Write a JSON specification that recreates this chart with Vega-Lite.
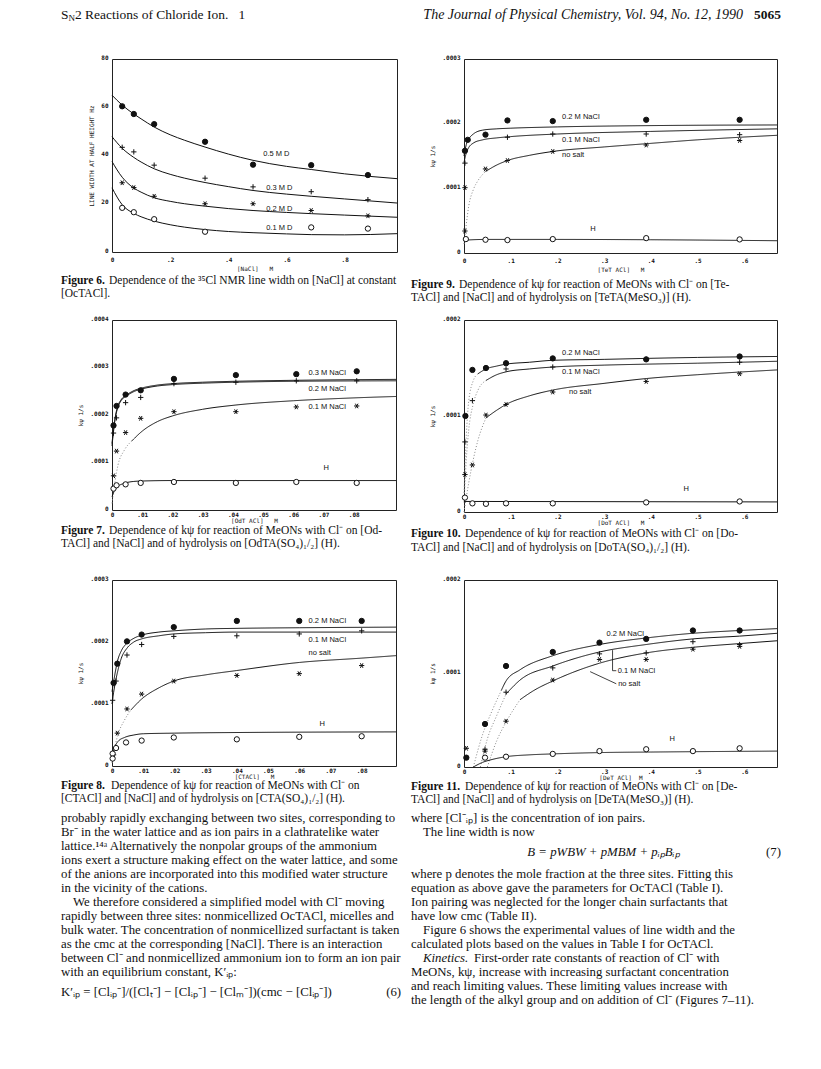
{
  "$schema": "https://vega.github.io/schema/vega-lite/v6.json",
  "padding": {"left": 60, "top": 0, "right": 0, "bottom": 0},
  "background": "white",
  "columns": 2,
  "bounds": "flush",
  "spacing": {"row": 0, "column": 67},
  "resolve": {"scale": {"x": "independent", "y": "independent", "shape": "independent", "fill": "independent", "color": "independent", "strokeDash": "independent"}},
  "config": {
    "view": {"stroke": "#222", "strokeWidth": 1},
    "axis": {"ticks": false, "domain": false, "grid": false, "labelFont": "DejaVu Sans Mono", "labelFontSize": 6, "labelColor": "#111", "labelFontWeight": "bold", "titleFont": "DejaVu Sans Mono", "titleFontSize": 6, "titleFontWeight": "normal", "titleColor": "#111", "labelFlush": false, "labelOverlap": false},
    "axisX": {"labelPadding": 1, "titlePadding": 0},
    "axisY": {"labelPadding": 4, "titlePadding": 6, "labelBaseline": "alphabetic"},
    "text": {"color": "#111"}
  },
  "datasets": {
    "c6": [
      {"s":"0.5 M D","x":0,"y":65},{"s":"0.5 M D","x":0.035,"y":60.9},{"s":"0.5 M D","x":0.075,"y":57.2},{"s":"0.5 M D","x":0.1,"y":55.2},{"s":"0.5 M D","x":0.145,"y":51.8},{"s":"0.5 M D","x":0.2,"y":48.6},{"s":"0.5 M D","x":0.25,"y":46.3},{"s":"0.5 M D","x":0.32,"y":43.5},{"s":"0.5 M D","x":0.4,"y":40.6},{"s":"0.5 M D","x":0.485,"y":38.0},{"s":"0.5 M D","x":0.6,"y":35.5},{"s":"0.5 M D","x":0.685,"y":34.2},{"s":"0.5 M D","x":0.8,"y":32.4},{"s":"0.5 M D","x":0.98,"y":30.4},
      {"s":"0.3 M D","x":0,"y":47.8},{"s":"0.3 M D","x":0.035,"y":43.0},{"s":"0.3 M D","x":0.075,"y":39.2},{"s":"0.3 M D","x":0.1,"y":37.3},{"s":"0.3 M D","x":0.145,"y":34.5},{"s":"0.3 M D","x":0.2,"y":32.2},{"s":"0.3 M D","x":0.25,"y":30.6},{"s":"0.3 M D","x":0.32,"y":28.8},{"s":"0.3 M D","x":0.4,"y":27.1},{"s":"0.3 M D","x":0.485,"y":25.5},{"s":"0.3 M D","x":0.6,"y":24.0},{"s":"0.3 M D","x":0.685,"y":23.1},{"s":"0.3 M D","x":0.8,"y":22.0},{"s":"0.3 M D","x":0.98,"y":20.3},
      {"s":"0.2 M D","x":0,"y":37.5},{"s":"0.2 M D","x":0.035,"y":31.0},{"s":"0.2 M D","x":0.075,"y":26.5},{"s":"0.2 M D","x":0.1,"y":24.8},{"s":"0.2 M D","x":0.145,"y":22.5},{"s":"0.2 M D","x":0.2,"y":21.0},{"s":"0.2 M D","x":0.25,"y":20.0},{"s":"0.2 M D","x":0.32,"y":19.0},{"s":"0.2 M D","x":0.4,"y":18.0},{"s":"0.2 M D","x":0.485,"y":17.2},{"s":"0.2 M D","x":0.6,"y":16.4},{"s":"0.2 M D","x":0.685,"y":15.9},{"s":"0.2 M D","x":0.8,"y":15.3},{"s":"0.2 M D","x":0.98,"y":14.4},
      {"s":"0.1 M D","x":0,"y":26.6},{"s":"0.1 M D","x":0.035,"y":19.6},{"s":"0.1 M D","x":0.075,"y":16.0},{"s":"0.1 M D","x":0.1,"y":14.6},{"s":"0.1 M D","x":0.145,"y":12.8},{"s":"0.1 M D","x":0.2,"y":11.3},{"s":"0.1 M D","x":0.25,"y":10.3},{"s":"0.1 M D","x":0.32,"y":9.3},{"s":"0.1 M D","x":0.4,"y":8.5},{"s":"0.1 M D","x":0.485,"y":8.0},{"s":"0.1 M D","x":0.6,"y":7.5},{"s":"0.1 M D","x":0.685,"y":7.2},{"s":"0.1 M D","x":0.8,"y":7.1},{"s":"0.1 M D","x":0.98,"y":7.6}
    ],
    "p6": [
      {"s":"0.5 M D","x":0.035,"y":60.4},{"s":"0.5 M D","x":0.075,"y":57.2},{"s":"0.5 M D","x":0.145,"y":53.0},{"s":"0.5 M D","x":0.32,"y":45.7},{"s":"0.5 M D","x":0.485,"y":36.2},{"s":"0.5 M D","x":0.685,"y":36.0},{"s":"0.5 M D","x":0.88,"y":31.9},
      {"s":"0.3 M D","x":0.035,"y":43.4},{"s":"0.3 M D","x":0.075,"y":41.5},{"s":"0.3 M D","x":0.145,"y":36.0},{"s":"0.3 M D","x":0.32,"y":30.6},{"s":"0.3 M D","x":0.485,"y":27.0},{"s":"0.3 M D","x":0.685,"y":25.0},{"s":"0.3 M D","x":0.88,"y":21.7},
      {"s":"0.2 M D","x":0.035,"y":28.7},{"s":"0.2 M D","x":0.075,"y":26.7},{"s":"0.2 M D","x":0.145,"y":23.1},{"s":"0.2 M D","x":0.32,"y":20.0},{"s":"0.2 M D","x":0.485,"y":20.0},{"s":"0.2 M D","x":0.685,"y":17.2},{"s":"0.2 M D","x":0.88,"y":15.0},
      {"s":"0.1 M D","x":0.035,"y":18.3},{"s":"0.1 M D","x":0.075,"y":16.5},{"s":"0.1 M D","x":0.145,"y":13.6},{"s":"0.1 M D","x":0.32,"y":8.4},{"s":"0.1 M D","x":0.685,"y":10.2},{"s":"0.1 M D","x":0.88,"y":9.7}
    ],
    "l6": [
      {"t":"0.5 M D","x":0.52,"y":40.5},{"t":"0.3 M D","x":0.53,"y":26.5},{"t":"0.2 M D","x":0.53,"y":18},{"t":"0.1 M D","x":0.53,"y":10}
    ],
    "c9": [
      {"s":"0.2 M NaCl","e":0,"x":0,"y":1.5e-4},{"s":"0.2 M NaCl","e":0,"x":0.005,"y":1.68e-4},{"s":"0.2 M NaCl","e":0,"x":0.01,"y":1.76e-4},{"s":"0.2 M NaCl","e":0,"x":0.02,"y":1.84e-4},{"s":"0.2 M NaCl","e":0,"x":0.04,"y":1.9e-4},{"s":"0.2 M NaCl","e":0,"x":0.07,"y":1.92e-4},{"s":"0.2 M NaCl","e":0,"x":0.1,"y":1.93e-4},{"s":"0.2 M NaCl","e":0,"x":0.2,"y":1.95e-4},{"s":"0.2 M NaCl","e":0,"x":0.4,"y":1.97e-4},{"s":"0.2 M NaCl","e":0,"x":0.67,"y":1.98e-4},
      {"s":"0.1 M NaCl","e":0,"x":0,"y":1.4e-4},{"s":"0.1 M NaCl","e":0,"x":0.005,"y":1.55e-4},{"s":"0.1 M NaCl","e":0,"x":0.01,"y":1.63e-4},{"s":"0.1 M NaCl","e":0,"x":0.02,"y":1.7e-4},{"s":"0.1 M NaCl","e":0,"x":0.04,"y":1.75e-4},{"s":"0.1 M NaCl","e":0,"x":0.07,"y":1.78e-4},{"s":"0.1 M NaCl","e":0,"x":0.1,"y":1.8e-4},{"s":"0.1 M NaCl","e":0,"x":0.2,"y":1.84e-4},{"s":"0.1 M NaCl","e":0,"x":0.4,"y":1.88e-4},{"s":"0.1 M NaCl","e":0,"x":0.67,"y":1.92e-4},
      {"s":"no salt","e":1,"x":0,"y":1.4e-5},{"s":"no salt","e":1,"x":0.005,"y":4.5e-5},{"s":"no salt","e":1,"x":0.01,"y":7.2e-5},{"s":"no salt","e":1,"x":0.02,"y":9.8e-5},{"s":"no salt","e":1,"x":0.03,"y":1.12e-4},{"s":"no salt","e":1,"x":0.046,"y":1.26e-4},
      {"s":"no salt","e":0,"x":0.046,"y":1.26e-4},{"s":"no salt","e":0,"x":0.07,"y":1.36e-4},{"s":"no salt","e":0,"x":0.093,"y":1.43e-4},{"s":"no salt","e":0,"x":0.14,"y":1.51e-4},{"s":"no salt","e":0,"x":0.19,"y":1.57e-4},{"s":"no salt","e":0,"x":0.3,"y":1.64e-4},{"s":"no salt","e":0,"x":0.39,"y":1.69e-4},{"s":"no salt","e":0,"x":0.5,"y":1.75e-4},{"s":"no salt","e":0,"x":0.67,"y":1.82e-4},
      {"s":"H","e":0,"x":0,"y":1.7e-5},{"s":"H","e":0,"x":0.005,"y":2.0e-5},{"s":"H","e":0,"x":0.05,"y":2.1e-5},{"s":"H","e":0,"x":0.2,"y":2.1e-5},{"s":"H","e":0,"x":0.4,"y":2.05e-5},{"s":"H","e":0,"x":0.67,"y":1.9e-5}
    ],
    "p9": [
      {"s":"0.2 M NaCl","x":0.002,"y":1.58e-4},{"s":"0.2 M NaCl","x":0.008,"y":1.75e-4},{"s":"0.2 M NaCl","x":0.046,"y":1.83e-4},{"s":"0.2 M NaCl","x":0.093,"y":2.05e-4},{"s":"0.2 M NaCl","x":0.19,"y":2.04e-4},{"s":"0.2 M NaCl","x":0.39,"y":2.06e-4},{"s":"0.2 M NaCl","x":0.59,"y":2.06e-4},
      {"s":"0.1 M NaCl","x":0.002,"y":1.39e-4},{"s":"0.1 M NaCl","x":0.093,"y":1.79e-4},{"s":"0.1 M NaCl","x":0.19,"y":1.84e-4},{"s":"0.1 M NaCl","x":0.39,"y":1.84e-4},{"s":"0.1 M NaCl","x":0.59,"y":1.83e-4},
      {"s":"no salt","x":0.002,"y":3.4e-5},{"s":"no salt","x":0.002,"y":1.01e-4},{"s":"no salt","x":0.046,"y":1.30e-4},{"s":"no salt","x":0.093,"y":1.43e-4},{"s":"no salt","x":0.19,"y":1.57e-4},{"s":"no salt","x":0.39,"y":1.67e-4},{"s":"no salt","x":0.59,"y":1.74e-4},
      {"s":"H","x":0.004,"y":2.15e-5},{"s":"H","x":0.046,"y":2.05e-5},{"s":"H","x":0.093,"y":2.0e-5},{"s":"H","x":0.19,"y":2.15e-5},{"s":"H","x":0.39,"y":2.3e-5},{"s":"H","x":0.59,"y":2.1e-5}
    ],
    "l9": [
      {"t":"0.2 M NaCl","x":0.21,"y":2.11e-4},{"t":"0.1 M NaCl","x":0.21,"y":1.75e-4},{"t":"no salt","x":0.21,"y":1.52e-4},{"t":"H","x":0.27,"y":3.7e-5}
    ],
    "c7": [
      {"s":"0.3 M NaCl","e":0,"x":0,"y":1.4e-4},{"s":"0.3 M NaCl","e":0,"x":0.0005,"y":1.7e-4},{"s":"0.3 M NaCl","e":0,"x":0.001,"y":1.93e-4},{"s":"0.3 M NaCl","e":0,"x":0.002,"y":2.2e-4},{"s":"0.3 M NaCl","e":0,"x":0.003,"y":2.32e-4},{"s":"0.3 M NaCl","e":0,"x":0.005,"y":2.43e-4},{"s":"0.3 M NaCl","e":0,"x":0.0075,"y":2.52e-4},{"s":"0.3 M NaCl","e":0,"x":0.01,"y":2.57e-4},{"s":"0.3 M NaCl","e":0,"x":0.015,"y":2.63e-4},{"s":"0.3 M NaCl","e":0,"x":0.02,"y":2.66e-4},{"s":"0.3 M NaCl","e":0,"x":0.03,"y":2.69e-4},{"s":"0.3 M NaCl","e":0,"x":0.041,"y":2.71e-4},{"s":"0.3 M NaCl","e":0,"x":0.06,"y":2.73e-4},{"s":"0.3 M NaCl","e":0,"x":0.094,"y":2.75e-4},
      {"s":"0.2 M NaCl","e":0,"x":0,"y":1.35e-4},{"s":"0.2 M NaCl","e":0,"x":0.0005,"y":1.65e-4},{"s":"0.2 M NaCl","e":0,"x":0.001,"y":1.9e-4},{"s":"0.2 M NaCl","e":0,"x":0.002,"y":2.17e-4},{"s":"0.2 M NaCl","e":0,"x":0.003,"y":2.3e-4},{"s":"0.2 M NaCl","e":0,"x":0.005,"y":2.41e-4},{"s":"0.2 M NaCl","e":0,"x":0.0075,"y":2.5e-4},{"s":"0.2 M NaCl","e":0,"x":0.01,"y":2.55e-4},{"s":"0.2 M NaCl","e":0,"x":0.015,"y":2.61e-4},{"s":"0.2 M NaCl","e":0,"x":0.02,"y":2.64e-4},{"s":"0.2 M NaCl","e":0,"x":0.03,"y":2.67e-4},{"s":"0.2 M NaCl","e":0,"x":0.041,"y":2.69e-4},{"s":"0.2 M NaCl","e":0,"x":0.06,"y":2.71e-4},{"s":"0.2 M NaCl","e":0,"x":0.094,"y":2.72e-4},
      {"s":"0.1 M NaCl","e":1,"x":0,"y":1.4e-5},{"s":"0.1 M NaCl","e":1,"x":0.001,"y":6.0e-5},{"s":"0.1 M NaCl","e":1,"x":0.002,"y":9.5e-5},{"s":"0.1 M NaCl","e":1,"x":0.004,"y":1.25e-4},{"s":"0.1 M NaCl","e":1,"x":0.0065,"y":1.45e-4},
      {"s":"0.1 M NaCl","e":0,"x":0.0065,"y":1.45e-4},{"s":"0.1 M NaCl","e":0,"x":0.01,"y":1.66e-4},{"s":"0.1 M NaCl","e":0,"x":0.015,"y":1.86e-4},{"s":"0.1 M NaCl","e":0,"x":0.02,"y":1.98e-4},{"s":"0.1 M NaCl","e":0,"x":0.03,"y":2.12e-4},{"s":"0.1 M NaCl","e":0,"x":0.041,"y":2.21e-4},{"s":"0.1 M NaCl","e":0,"x":0.06,"y":2.3e-4},{"s":"0.1 M NaCl","e":0,"x":0.08,"y":2.36e-4},{"s":"0.1 M NaCl","e":0,"x":0.094,"y":2.39e-4},
      {"s":"H","e":0,"x":0,"y":2.8e-5},{"s":"H","e":0,"x":0.001,"y":4.3e-5},{"s":"H","e":0,"x":0.002,"y":5.0e-5},{"s":"H","e":0,"x":0.004,"y":5.6e-5},{"s":"H","e":0,"x":0.007,"y":6.0e-5},{"s":"H","e":0,"x":0.01,"y":6.1e-5},{"s":"H","e":0,"x":0.02,"y":6.2e-5},{"s":"H","e":0,"x":0.094,"y":6.2e-5}
    ],
    "p7": [
      {"s":"0.3 M NaCl","x":0.0005,"y":1.78e-4},{"s":"0.3 M NaCl","x":0.0015,"y":2.19e-4},{"s":"0.3 M NaCl","x":0.0045,"y":2.43e-4},{"s":"0.3 M NaCl","x":0.0095,"y":2.52e-4},{"s":"0.3 M NaCl","x":0.0205,"y":2.76e-4},{"s":"0.3 M NaCl","x":0.041,"y":2.84e-4},{"s":"0.3 M NaCl","x":0.061,"y":2.86e-4},{"s":"0.3 M NaCl","x":0.081,"y":2.92e-4},
      {"s":"0.2 M NaCl","x":0.0005,"y":1.62e-4},{"s":"0.2 M NaCl","x":0.0015,"y":1.94e-4},{"s":"0.2 M NaCl","x":0.0045,"y":2.26e-4},{"s":"0.2 M NaCl","x":0.0095,"y":2.37e-4},{"s":"0.2 M NaCl","x":0.0205,"y":2.66e-4},{"s":"0.2 M NaCl","x":0.041,"y":2.69e-4},{"s":"0.2 M NaCl","x":0.061,"y":2.72e-4},{"s":"0.2 M NaCl","x":0.081,"y":2.72e-4},
      {"s":"0.1 M NaCl","x":0.0005,"y":7.2e-5},{"s":"0.1 M NaCl","x":0.0015,"y":1.24e-4},{"s":"0.1 M NaCl","x":0.0045,"y":1.63e-4},{"s":"0.1 M NaCl","x":0.0095,"y":1.93e-4},{"s":"0.1 M NaCl","x":0.0205,"y":2.07e-4},{"s":"0.1 M NaCl","x":0.041,"y":2.07e-4},{"s":"0.1 M NaCl","x":0.061,"y":2.17e-4},{"s":"0.1 M NaCl","x":0.081,"y":2.19e-4},
      {"s":"H","x":0.0005,"y":4.5e-5},{"s":"H","x":0.0015,"y":5.2e-5},{"s":"H","x":0.0045,"y":5.4e-5},{"s":"H","x":0.0095,"y":5.7e-5},{"s":"H","x":0.0205,"y":5.9e-5},{"s":"H","x":0.041,"y":5.7e-5},{"s":"H","x":0.061,"y":5.9e-5},{"s":"H","x":0.081,"y":5.7e-5}
    ],
    "l7": [
      {"t":"0.3 M NaCl","x":0.065,"y":2.88e-4},{"t":"0.2 M NaCl","x":0.065,"y":2.55e-4},{"t":"0.1 M NaCl","x":0.065,"y":2.17e-4},{"t":"H","x":0.07,"y":8.8e-5}
    ],
    "c10": [
      {"s":"0.2 M NaCl","e":1,"x":0,"y":2e-5},{"s":"0.2 M NaCl","e":1,"x":0.005,"y":8e-5},{"s":"0.2 M NaCl","e":1,"x":0.01,"y":1.15e-4},{"s":"0.2 M NaCl","e":1,"x":0.02,"y":1.37e-4},{"s":"0.2 M NaCl","e":1,"x":0.03,"y":1.44e-4},
      {"s":"0.2 M NaCl","e":0,"x":0.03,"y":1.44e-4},{"s":"0.2 M NaCl","e":0,"x":0.047,"y":1.49e-4},{"s":"0.2 M NaCl","e":0,"x":0.07,"y":1.52e-4},{"s":"0.2 M NaCl","e":0,"x":0.09,"y":1.54e-4},{"s":"0.2 M NaCl","e":0,"x":0.14,"y":1.56e-4},{"s":"0.2 M NaCl","e":0,"x":0.19,"y":1.58e-4},{"s":"0.2 M NaCl","e":0,"x":0.3,"y":1.59e-4},{"s":"0.2 M NaCl","e":0,"x":0.39,"y":1.6e-4},{"s":"0.2 M NaCl","e":0,"x":0.5,"y":1.61e-4},{"s":"0.2 M NaCl","e":0,"x":0.67,"y":1.62e-4},
      {"s":"0.1 M NaCl","e":1,"x":0,"y":1e-5},{"s":"0.1 M NaCl","e":1,"x":0.005,"y":5.5e-5},{"s":"0.1 M NaCl","e":1,"x":0.01,"y":8.5e-5},{"s":"0.1 M NaCl","e":1,"x":0.02,"y":1.13e-4},{"s":"0.1 M NaCl","e":1,"x":0.03,"y":1.27e-4},{"s":"0.1 M NaCl","e":1,"x":0.047,"y":1.37e-4},
      {"s":"0.1 M NaCl","e":0,"x":0.047,"y":1.37e-4},{"s":"0.1 M NaCl","e":0,"x":0.07,"y":1.43e-4},{"s":"0.1 M NaCl","e":0,"x":0.09,"y":1.46e-4},{"s":"0.1 M NaCl","e":0,"x":0.14,"y":1.49e-4},{"s":"0.1 M NaCl","e":0,"x":0.19,"y":1.51e-4},{"s":"0.1 M NaCl","e":0,"x":0.3,"y":1.53e-4},{"s":"0.1 M NaCl","e":0,"x":0.39,"y":1.54e-4},{"s":"0.1 M NaCl","e":0,"x":0.5,"y":1.55e-4},{"s":"0.1 M NaCl","e":0,"x":0.67,"y":1.57e-4},
      {"s":"no salt","e":1,"x":0,"y":0},{"s":"no salt","e":1,"x":0.01,"y":3e-5},{"s":"no salt","e":1,"x":0.02,"y":5.5e-5},{"s":"no salt","e":1,"x":0.03,"y":7.5e-5},{"s":"no salt","e":1,"x":0.047,"y":9.8e-5},
      {"s":"no salt","e":0,"x":0.047,"y":9.8e-5},{"s":"no salt","e":0,"x":0.07,"y":1.06e-4},{"s":"no salt","e":0,"x":0.09,"y":1.12e-4},{"s":"no salt","e":0,"x":0.14,"y":1.21e-4},{"s":"no salt","e":0,"x":0.19,"y":1.27e-4},{"s":"no salt","e":0,"x":0.3,"y":1.34e-4},{"s":"no salt","e":0,"x":0.39,"y":1.39e-4},{"s":"no salt","e":0,"x":0.5,"y":1.43e-4},{"s":"no salt","e":0,"x":0.67,"y":1.48e-4},
      {"s":"H","e":0,"x":0,"y":1.1e-5},{"s":"H","e":0,"x":0.67,"y":1.05e-5}
    ],
    "p10": [
      {"s":"0.2 M NaCl","x":0.003,"y":1.0e-4},{"s":"0.2 M NaCl","x":0.018,"y":1.48e-4},{"s":"0.2 M NaCl","x":0.047,"y":1.5e-4},{"s":"0.2 M NaCl","x":0.09,"y":1.55e-4},{"s":"0.2 M NaCl","x":0.19,"y":1.6e-4},{"s":"0.2 M NaCl","x":0.39,"y":1.59e-4},{"s":"0.2 M NaCl","x":0.59,"y":1.62e-4},
      {"s":"0.1 M NaCl","x":0.002,"y":7.3e-5},{"s":"0.1 M NaCl","x":0.018,"y":1.16e-4},{"s":"0.1 M NaCl","x":0.09,"y":1.49e-4},{"s":"0.1 M NaCl","x":0.19,"y":1.51e-4},{"s":"0.1 M NaCl","x":0.39,"y":1.59e-4},{"s":"0.1 M NaCl","x":0.59,"y":1.56e-4},
      {"s":"no salt","x":0.002,"y":3.9e-5},{"s":"no salt","x":0.018,"y":4.9e-5},{"s":"no salt","x":0.047,"y":1.01e-4},{"s":"no salt","x":0.09,"y":1.12e-4},{"s":"no salt","x":0.19,"y":1.25e-4},{"s":"no salt","x":0.39,"y":1.36e-4},{"s":"no salt","x":0.59,"y":1.44e-4},
      {"s":"H","x":0.002,"y":1.5e-5},{"s":"H","x":0.018,"y":9e-6},{"s":"H","x":0.047,"y":8.5e-6},{"s":"H","x":0.09,"y":9e-6},{"s":"H","x":0.19,"y":9e-6},{"s":"H","x":0.39,"y":1.0e-5},{"s":"H","x":0.59,"y":1.1e-5}
    ],
    "l10": [
      {"t":"0.2 M NaCl","x":0.21,"y":1.66e-4},{"t":"0.1 M NaCl","x":0.21,"y":1.46e-4},{"t":"no salt","x":0.225,"y":1.25e-4},{"t":"H","x":0.47,"y":2.4e-5}
    ],
    "c8": [
      {"s":"0.2 M NaCl","e":0,"x":0,"y":1.2e-4},{"s":"0.2 M NaCl","e":0,"x":0.0005,"y":1.35e-4},{"s":"0.2 M NaCl","e":0,"x":0.001,"y":1.5e-4},{"s":"0.2 M NaCl","e":0,"x":0.0017,"y":1.68e-4},{"s":"0.2 M NaCl","e":0,"x":0.003,"y":1.86e-4},{"s":"0.2 M NaCl","e":0,"x":0.0048,"y":1.98e-4},{"s":"0.2 M NaCl","e":0,"x":0.007,"y":2.06e-4},{"s":"0.2 M NaCl","e":0,"x":0.0095,"y":2.11e-4},{"s":"0.2 M NaCl","e":0,"x":0.015,"y":2.16e-4},{"s":"0.2 M NaCl","e":0,"x":0.0198,"y":2.18e-4},{"s":"0.2 M NaCl","e":0,"x":0.03,"y":2.21e-4},{"s":"0.2 M NaCl","e":0,"x":0.04,"y":2.22e-4},{"s":"0.2 M NaCl","e":0,"x":0.06,"y":2.23e-4},{"s":"0.2 M NaCl","e":0,"x":0.091,"y":2.24e-4},
      {"s":"0.1 M NaCl","e":0,"x":0,"y":1.0e-4},{"s":"0.1 M NaCl","e":0,"x":0.0005,"y":1.18e-4},{"s":"0.1 M NaCl","e":0,"x":0.001,"y":1.33e-4},{"s":"0.1 M NaCl","e":0,"x":0.0017,"y":1.5e-4},{"s":"0.1 M NaCl","e":0,"x":0.003,"y":1.74e-4},{"s":"0.1 M NaCl","e":0,"x":0.0048,"y":1.9e-4},{"s":"0.1 M NaCl","e":0,"x":0.007,"y":2.0e-4},{"s":"0.1 M NaCl","e":0,"x":0.0095,"y":2.05e-4},{"s":"0.1 M NaCl","e":0,"x":0.015,"y":2.1e-4},{"s":"0.1 M NaCl","e":0,"x":0.0198,"y":2.13e-4},{"s":"0.1 M NaCl","e":0,"x":0.03,"y":2.15e-4},{"s":"0.1 M NaCl","e":0,"x":0.04,"y":2.16e-4},{"s":"0.1 M NaCl","e":0,"x":0.06,"y":2.16e-4},{"s":"0.1 M NaCl","e":0,"x":0.091,"y":2.16e-4},
      {"s":"no salt","e":1,"x":0,"y":5e-6},{"s":"no salt","e":1,"x":0.001,"y":3.3e-5},{"s":"no salt","e":1,"x":0.002,"y":5.2e-5},{"s":"no salt","e":1,"x":0.004,"y":7.4e-5},{"s":"no salt","e":1,"x":0.006,"y":9.0e-5},
      {"s":"no salt","e":0,"x":0.006,"y":9.0e-5},{"s":"no salt","e":0,"x":0.0095,"y":1.08e-4},{"s":"no salt","e":0,"x":0.015,"y":1.26e-4},{"s":"no salt","e":0,"x":0.0198,"y":1.37e-4},{"s":"no salt","e":0,"x":0.03,"y":1.47e-4},{"s":"no salt","e":0,"x":0.04,"y":1.54e-4},{"s":"no salt","e":0,"x":0.06,"y":1.67e-4},{"s":"no salt","e":0,"x":0.08,"y":1.74e-4},{"s":"no salt","e":0,"x":0.091,"y":1.78e-4},
      {"s":"H","e":0,"x":0,"y":1.5e-5},{"s":"H","e":0,"x":0.001,"y":3.2e-5},{"s":"H","e":0,"x":0.002,"y":4.0e-5},{"s":"H","e":0,"x":0.004,"y":4.6e-5},{"s":"H","e":0,"x":0.007,"y":5.0e-5},{"s":"H","e":0,"x":0.01,"y":5.2e-5},{"s":"H","e":0,"x":0.02,"y":5.3e-5},{"s":"H","e":0,"x":0.04,"y":5.4e-5},{"s":"H","e":0,"x":0.091,"y":5.5e-5}
    ],
    "p8": [
      {"s":"0.2 M NaCl","x":0.0005,"y":1.34e-4},{"s":"0.2 M NaCl","x":0.0017,"y":1.65e-4},{"s":"0.2 M NaCl","x":0.0048,"y":2.01e-4},{"s":"0.2 M NaCl","x":0.0095,"y":2.12e-4},{"s":"0.2 M NaCl","x":0.0198,"y":2.24e-4},{"s":"0.2 M NaCl","x":0.04,"y":2.34e-4},{"s":"0.2 M NaCl","x":0.06,"y":2.34e-4},{"s":"0.2 M NaCl","x":0.08,"y":2.34e-4},
      {"s":"0.1 M NaCl","x":0.0002,"y":1.06e-4},{"s":"0.1 M NaCl","x":0.0013,"y":1.37e-4},{"s":"0.1 M NaCl","x":0.0048,"y":1.79e-4},{"s":"0.1 M NaCl","x":0.0095,"y":1.96e-4},{"s":"0.1 M NaCl","x":0.0198,"y":2.09e-4},{"s":"0.1 M NaCl","x":0.04,"y":2.1e-4},{"s":"0.1 M NaCl","x":0.06,"y":2.13e-4},{"s":"0.1 M NaCl","x":0.08,"y":2.18e-4},
      {"s":"no salt","x":0.0005,"y":1.8e-5},{"s":"no salt","x":0.0017,"y":5.3e-5},{"s":"no salt","x":0.0048,"y":9.2e-5},{"s":"no salt","x":0.0095,"y":1.16e-4},{"s":"no salt","x":0.0198,"y":1.37e-4},{"s":"no salt","x":0.04,"y":1.46e-4},{"s":"no salt","x":0.06,"y":1.49e-4},{"s":"no salt","x":0.08,"y":1.62e-4},
      {"s":"H","x":0.0002,"y":2.0e-5},{"s":"H","x":0.0002,"y":1.2e-5},{"s":"H","x":0.0013,"y":2.9e-5},{"s":"H","x":0.0045,"y":3.8e-5},{"s":"H","x":0.0095,"y":4.1e-5},{"s":"H","x":0.0198,"y":4.6e-5},{"s":"H","x":0.04,"y":4.3e-5},{"s":"H","x":0.06,"y":4.7e-5},{"s":"H","x":0.08,"y":4.8e-5}
    ],
    "l8": [
      {"t":"0.2 M NaCl","x":0.063,"y":2.34e-4},{"t":"0.1 M NaCl","x":0.063,"y":2.03e-4},{"t":"no salt","x":0.063,"y":1.82e-4},{"t":"H","x":0.0665,"y":6.8e-5}
    ],
    "c11": [
      {"s":"0.2 M NaCl","e":1,"x":0.02,"y":0},{"s":"0.2 M NaCl","e":1,"x":0.04,"y":3.5e-5},{"s":"0.2 M NaCl","e":1,"x":0.06,"y":6.0e-5},{"s":"0.2 M NaCl","e":1,"x":0.08,"y":8.2e-5},
      {"s":"0.2 M NaCl","e":0,"x":0.08,"y":8.2e-5},{"s":"0.2 M NaCl","e":0,"x":0.09,"y":9.2e-5},{"s":"0.2 M NaCl","e":0,"x":0.12,"y":1.04e-4},{"s":"0.2 M NaCl","e":0,"x":0.19,"y":1.19e-4},{"s":"0.2 M NaCl","e":0,"x":0.29,"y":1.31e-4},{"s":"0.2 M NaCl","e":0,"x":0.39,"y":1.38e-4},{"s":"0.2 M NaCl","e":0,"x":0.49,"y":1.43e-4},{"s":"0.2 M NaCl","e":0,"x":0.59,"y":1.46e-4},{"s":"0.2 M NaCl","e":0,"x":0.67,"y":1.48e-4},
      {"s":"0.1 M NaCl","e":1,"x":0.035,"y":0},{"s":"0.1 M NaCl","e":1,"x":0.05,"y":3.0e-5},{"s":"0.1 M NaCl","e":1,"x":0.07,"y":5.5e-5},{"s":"0.1 M NaCl","e":1,"x":0.09,"y":7.8e-5},
      {"s":"0.1 M NaCl","e":0,"x":0.09,"y":7.8e-5},{"s":"0.1 M NaCl","e":0,"x":0.12,"y":9.3e-5},{"s":"0.1 M NaCl","e":0,"x":0.19,"y":1.08e-4},{"s":"0.1 M NaCl","e":0,"x":0.29,"y":1.23e-4},{"s":"0.1 M NaCl","e":0,"x":0.39,"y":1.31e-4},{"s":"0.1 M NaCl","e":0,"x":0.49,"y":1.37e-4},{"s":"0.1 M NaCl","e":0,"x":0.59,"y":1.4e-4},{"s":"0.1 M NaCl","e":0,"x":0.67,"y":1.43e-4},
      {"s":"no salt","e":1,"x":0.05,"y":0},{"s":"no salt","e":1,"x":0.07,"y":2.8e-5},{"s":"no salt","e":1,"x":0.09,"y":4.8e-5},{"s":"no salt","e":1,"x":0.12,"y":7.2e-5},
      {"s":"no salt","e":0,"x":0.12,"y":7.2e-5},{"s":"no salt","e":0,"x":0.15,"y":8.2e-5},{"s":"no salt","e":0,"x":0.19,"y":9.2e-5},{"s":"no salt","e":0,"x":0.29,"y":1.11e-4},{"s":"no salt","e":0,"x":0.39,"y":1.22e-4},{"s":"no salt","e":0,"x":0.49,"y":1.28e-4},{"s":"no salt","e":0,"x":0.59,"y":1.32e-4},{"s":"no salt","e":0,"x":0.67,"y":1.35e-4},
      {"s":"H","e":0,"x":0.02,"y":0},{"s":"H","e":0,"x":0.04,"y":5e-6},{"s":"H","e":0,"x":0.06,"y":8e-6},{"s":"H","e":0,"x":0.09,"y":1.1e-5},{"s":"H","e":0,"x":0.14,"y":1.3e-5},{"s":"H","e":0,"x":0.19,"y":1.4e-5},{"s":"H","e":0,"x":0.3,"y":1.55e-5},{"s":"H","e":0,"x":0.4,"y":1.6e-5},{"s":"H","e":0,"x":0.67,"y":1.7e-5}
    ],
    "p11": [
      {"s":"0.2 M NaCl","x":0.005,"y":1.0e-5},{"s":"0.2 M NaCl","x":0.045,"y":4.6e-5},{"s":"0.2 M NaCl","x":0.09,"y":1.08e-4},{"s":"0.2 M NaCl","x":0.19,"y":1.23e-4},{"s":"0.2 M NaCl","x":0.29,"y":1.33e-4},{"s":"0.2 M NaCl","x":0.39,"y":1.37e-4},{"s":"0.2 M NaCl","x":0.49,"y":1.46e-4},{"s":"0.2 M NaCl","x":0.59,"y":1.46e-4},
      {"s":"0.1 M NaCl","x":0.045,"y":1.9e-5},{"s":"0.1 M NaCl","x":0.09,"y":8.0e-5},{"s":"0.1 M NaCl","x":0.19,"y":1.06e-4},{"s":"0.1 M NaCl","x":0.29,"y":1.21e-4},{"s":"0.1 M NaCl","x":0.39,"y":1.22e-4},{"s":"0.1 M NaCl","x":0.49,"y":1.34e-4},{"s":"0.1 M NaCl","x":0.59,"y":1.31e-4},
      {"s":"no salt","x":0.005,"y":2.0e-5},{"s":"no salt","x":0.045,"y":1.7e-5},{"s":"no salt","x":0.09,"y":4.9e-5},{"s":"no salt","x":0.19,"y":9.3e-5},{"s":"no salt","x":0.29,"y":1.15e-4},{"s":"no salt","x":0.39,"y":1.15e-4},{"s":"no salt","x":0.49,"y":1.26e-4},{"s":"no salt","x":0.59,"y":1.29e-4},
      {"s":"H","x":0.045,"y":1.0e-5},{"s":"H","x":0.09,"y":1.1e-5},{"s":"H","x":0.19,"y":1.4e-5},{"s":"H","x":0.29,"y":1.7e-5},{"s":"H","x":0.39,"y":1.9e-5},{"s":"H","x":0.49,"y":1.7e-5},{"s":"H","x":0.59,"y":2.0e-5}
    ],
    "l11": [
      {"t":"0.2 M NaCl","x":0.305,"y":1.42e-4},{"t":"0.1 M NaCl","x":0.329,"y":1.03e-4},{"t":"no salt","x":0.33,"y":8.85e-5},{"t":"H","x":0.44,"y":3.0e-5}
    ],
    "r11": [
      {"x":0.318,"y":1.25e-4,"x2":0.318,"y2":1.03e-4},{"x":0.318,"y":1.03e-4,"x2":0.326,"y2":1.03e-4},{"x":0.27,"y":1.02e-4,"x2":0.326,"y2":8.9e-5}
    ]
  },
  "concat": [
    {
      "width": 285, "height": 59, "view": {"stroke": null},
      "data": {"values": [{"line":1,"p":"a","t":"S"},{"line":1,"p":"n","t":"N"},{"line":1,"p":"r","t":"2 Reactions of Chloride Ion.\u00a0\u00a0\u00a01"}]},
      "encoding": {
        "x": {"datum": 0, "type": "quantitative", "scale": {"domain": [0.15, 0.988], "nice": false, "zero": false}, "axis": null},
        "y": {"field": "line", "type": "quantitative", "scale": {"domain": [-0.111, 4.259], "reverse": true, "nice": false, "zero": false}, "axis": null}
      },
      "layer": [
        {"transform": [{"filter": "datum.p == 'a'"}], "mark": {"type": "text", "align": "left", "baseline": "middle", "font": "Liberation Serif", "fontSize": 13.5}, "encoding": {"text": {"field": "t"}}},
        {"transform": [{"filter": "datum.p == 'n'"}], "mark": {"type": "text", "align": "left", "baseline": "middle", "font": "Liberation Serif", "fontSize": 9, "dx": 7.5, "dy": 3}, "encoding": {"text": {"field": "t"}}},
        {"transform": [{"filter": "datum.p == 'r'"}], "mark": {"type": "text", "align": "left", "baseline": "middle", "font": "Liberation Serif", "fontSize": 13.5, "dx": 14}, "encoding": {"text": {"field": "t"}}}
      ]
    },
    {
      "width": 313, "height": 59, "view": {"stroke": null},
      "data": {"values": [{"line":1,"p":"i","t":"The Journal of Physical Chemistry, Vol. 94, No. 12, 1990"},{"line":1,"p":"b","t":"5065"}]},
      "encoding": {
        "x": {"datum": 1, "type": "quantitative", "scale": {"domain": [0.1432, 0.9892], "nice": false, "zero": false}, "axis": null},
        "y": {"field": "line", "type": "quantitative", "scale": {"domain": [-0.111, 4.259], "reverse": true, "nice": false, "zero": false}, "axis": null}
      },
      "layer": [
        {"transform": [{"filter": "datum.p == 'i'"}], "mark": {"type": "text", "align": "right", "baseline": "middle", "font": "Liberation Serif", "fontSize": 14, "fontStyle": "italic", "dx": -38}, "encoding": {"text": {"field": "t"}}},
        {"transform": [{"filter": "datum.p == 'b'"}], "mark": {"type": "text", "align": "right", "baseline": "middle", "font": "Liberation Serif", "fontSize": 13.5, "fontWeight": "bold"}, "encoding": {"text": {"field": "t"}}}
      ]
    },
    {
      "width": 285, "height": 193,
      "encoding": {
        "x": {"field": "x", "type": "quantitative", "scale": {"domain": [0, 0.98], "nice": false, "zero": false}, "axis": {"values": [0, 0.2, 0.4, 0.6, 0.8], "labelExpr": "datum.value == 0 ? '0' : slice(format(datum.value, '.1f'), 1)", "title": "[NaCl]\u00a0\u00a0\u00a0M", "labelPadding": 4, "titlePadding": 3}},
        "y": {"field": "y", "type": "quantitative", "scale": {"domain": [0, 80], "nice": false, "zero": false}, "axis": {"values": [0, 20, 40, 60, 80], "title": "LINE WIDTH AT HALF HEIGHT Hz"}}
      },
      "layer": [
        {"data": {"name": "c6"}, "mark": {"type": "line", "interpolate": "monotone", "strokeWidth": 1, "color": "#111"}, "encoding": {"detail": {"field": "s", "type": "nominal"}}},
        {"data": {"name": "p6"}, "mark": {"type": "point", "filled": false, "strokeWidth": 1, "size": 28, "opacity": 1, "stroke": "#111"},
         "encoding": {
           "shape": {"field": "s", "type": "nominal", "scale": {"domain": ["0.5 M D", "0.3 M D", "0.2 M D", "0.1 M D"], "range": ["circle", "M-1,0L1,0M0,-1L0,1", "M-1,0L1,0M-0.5,-0.87L0.5,0.87M-0.5,0.87L0.5,-0.87", "circle"]}, "legend": null},
           "fill": {"field": "s", "type": "nominal", "scale": {"domain": ["0.5 M D", "0.3 M D", "0.2 M D", "0.1 M D"], "range": ["#111", "white", "white", "white"]}, "legend": null}
         }},
        {"data": {"name": "l6"}, "mark": {"type": "text", "align": "left", "baseline": "middle", "font": "Liberation Sans", "fontSize": 7.5}, "encoding": {"text": {"field": "t"}}}
      ]
    },
    {
      "width": 313, "height": 194,
      "encoding": {
        "x": {"field": "x", "type": "quantitative", "scale": {"domain": [0, 0.67], "nice": false, "zero": false}, "axis": {"values": [0, 0.1, 0.2, 0.3, 0.4, 0.5, 0.6], "labelExpr": "datum.value == 0 ? '0' : slice(format(datum.value, '.1f'), 1)", "title": "[TeT ACl]\u00a0\u00a0\u00a0M", "labelPadding": 4, "titlePadding": 3}},
        "y": {"field": "y", "type": "quantitative", "scale": {"domain": [0, 0.0003], "nice": false, "zero": false}, "axis": {"values": [0, 0.0001, 0.0002, 0.0003], "labelExpr": "datum.value == 0 ? '0' : slice(format(datum.value, '.4f'), 1)", "title": "kψ 1/s"}}
      },
      "layer": [
        {"data": {"name": "c9"}, "mark": {"type": "line", "interpolate": "monotone", "strokeWidth": 1},
         "encoding": {"detail": [{"field": "s", "type": "nominal"}, {"field": "e", "type": "nominal"}],
           "color": {"field": "e", "type": "nominal", "scale": {"domain": [0, 1], "range": ["#111", "#888"]}, "legend": null},
           "strokeDash": {"field": "e", "type": "nominal", "scale": {"domain": [0, 1], "range": [[1, 0], [1, 2]]}, "legend": null}}},
        {"data": {"name": "p9"}, "mark": {"type": "point", "filled": false, "strokeWidth": 1, "size": 28, "opacity": 1, "stroke": "#111"},
         "encoding": {
           "shape": {"field": "s", "type": "nominal", "scale": {"domain": ["0.2 M NaCl", "0.1 M NaCl", "no salt", "H"], "range": ["circle", "M-1,0L1,0M0,-1L0,1", "M-1,0L1,0M-0.5,-0.87L0.5,0.87M-0.5,0.87L0.5,-0.87", "circle"]}, "legend": null},
           "fill": {"field": "s", "type": "nominal", "scale": {"domain": ["0.2 M NaCl", "0.1 M NaCl", "no salt", "H"], "range": ["#111", "white", "white", "white"]}, "legend": null}
         }},
        {"data": {"name": "l9"}, "mark": {"type": "text", "align": "left", "baseline": "middle", "font": "Liberation Sans", "fontSize": 7.5}, "encoding": {"text": {"field": "t"}}}
      ]
    },
    {
      "width": 285, "height": 67, "view": {"stroke": null},
      "data": {"values": [{"line":1,"p":"b","t":"Figure 6."},{"line":1,"p":"r","t":"Dependence of the ³⁵Cl NMR line width on [NaCl] at constant"},{"line":2,"p":"l","t":"[OcTACl]."}]},
      "encoding": {
        "x": {"datum": 0, "type": "quantitative", "scale": {"domain": [0.15, 0.988], "nice": false, "zero": false}, "axis": null},
        "y": {"field": "line", "type": "quantitative", "scale": {"domain": [-1.074, 3.889], "reverse": true, "nice": false, "zero": false}, "axis": null}
      },
      "layer": [
        {"transform": [{"filter": "datum.p == 'b'"}], "mark": {"type": "text", "align": "left", "baseline": "middle", "font": "Liberation Serif", "fontSize": 11.5, "fontWeight": "bold"}, "encoding": {"text": {"field": "t"}}},
        {"transform": [{"filter": "datum.p == 'r'"}], "mark": {"type": "text", "align": "left", "baseline": "middle", "font": "Liberation Serif", "fontSize": 11.5, "dx": 48}, "encoding": {"text": {"field": "t"}}},
        {"transform": [{"filter": "datum.p == 'l'"}], "mark": {"type": "text", "align": "left", "baseline": "middle", "font": "Liberation Serif", "fontSize": 11.5}, "encoding": {"text": {"field": "t"}}}
      ]
    },
    {
      "width": 313, "height": 67, "view": {"stroke": null},
      "data": {"values": [{"line":1,"p":"b","t":"Figure 9."},{"line":1,"p":"r","t":"Dependence of kψ for reaction of MeONs with Cl⁻ on [Te-"},{"line":2,"p":"l","t":"TACl] and [NaCl] and of hydrolysis on [TeTA(MeSO₃)] (H)."}]},
      "encoding": {
        "x": {"datum": 0, "type": "quantitative", "scale": {"domain": [0.1432, 0.9892], "nice": false, "zero": false}, "axis": null},
        "y": {"field": "line", "type": "quantitative", "scale": {"domain": [-1.37, 3.593], "reverse": true, "nice": false, "zero": false}, "axis": null}
      },
      "layer": [
        {"transform": [{"filter": "datum.p == 'b'"}], "mark": {"type": "text", "align": "left", "baseline": "middle", "font": "Liberation Serif", "fontSize": 11.5, "fontWeight": "bold"}, "encoding": {"text": {"field": "t"}}},
        {"transform": [{"filter": "datum.p == 'r'"}], "mark": {"type": "text", "align": "left", "baseline": "middle", "font": "Liberation Serif", "fontSize": 11.5, "dx": 48}, "encoding": {"text": {"field": "t"}}},
        {"transform": [{"filter": "datum.p == 'l'"}], "mark": {"type": "text", "align": "left", "baseline": "middle", "font": "Liberation Serif", "fontSize": 11.5}, "encoding": {"text": {"field": "t"}}}
      ]
    },
    {
      "width": 284, "height": 190,
      "encoding": {
        "x": {"field": "x", "type": "quantitative", "scale": {"domain": [0, 0.094], "nice": false, "zero": false}, "axis": {"values": [0, 0.01, 0.02, 0.03, 0.04, 0.05, 0.06, 0.07, 0.08], "labelExpr": "datum.value == 0 ? '0' : slice(format(datum.value, '.2f'), 1)", "title": "[OdT ACl]\u00a0\u00a0\u00a0M"}},
        "y": {"field": "y", "type": "quantitative", "scale": {"domain": [0, 0.0004], "nice": false, "zero": false}, "axis": {"values": [0, 0.0001, 0.0002, 0.0003, 0.0004], "labelExpr": "datum.value == 0 ? '0' : slice(format(datum.value, '.4f'), 1)", "title": "kψ 1/s"}}
      },
      "layer": [
        {"data": {"name": "c7"}, "mark": {"type": "line", "interpolate": "monotone", "strokeWidth": 1},
         "encoding": {"detail": [{"field": "s", "type": "nominal"}, {"field": "e", "type": "nominal"}],
           "color": {"field": "e", "type": "nominal", "scale": {"domain": [0, 1], "range": ["#111", "#888"]}, "legend": null},
           "strokeDash": {"field": "e", "type": "nominal", "scale": {"domain": [0, 1], "range": [[1, 0], [1, 2]]}, "legend": null}}},
        {"data": {"name": "p7"}, "mark": {"type": "point", "filled": false, "strokeWidth": 1, "size": 28, "opacity": 1, "stroke": "#111"},
         "encoding": {
           "shape": {"field": "s", "type": "nominal", "scale": {"domain": ["0.3 M NaCl", "0.2 M NaCl", "0.1 M NaCl", "H"], "range": ["circle", "M-1,0L1,0M0,-1L0,1", "M-1,0L1,0M-0.5,-0.87L0.5,0.87M-0.5,0.87L0.5,-0.87", "circle"]}, "legend": null},
           "fill": {"field": "s", "type": "nominal", "scale": {"domain": ["0.3 M NaCl", "0.2 M NaCl", "0.1 M NaCl", "H"], "range": ["#111", "white", "white", "white"]}, "legend": null}
         }},
        {"data": {"name": "l7"}, "mark": {"type": "text", "align": "left", "baseline": "middle", "font": "Liberation Sans", "fontSize": 7.5}, "encoding": {"text": {"field": "t"}}}
      ]
    },
    {
      "width": 313, "height": 192,
      "encoding": {
        "x": {"field": "x", "type": "quantitative", "scale": {"domain": [0, 0.67], "nice": false, "zero": false}, "axis": {"values": [0, 0.1, 0.2, 0.3, 0.4, 0.5, 0.6], "labelExpr": "datum.value == 0 ? '0' : slice(format(datum.value, '.1f'), 1)", "title": "[DoT ACl]\u00a0\u00a0\u00a0M"}},
        "y": {"field": "y", "type": "quantitative", "scale": {"domain": [0, 0.0002], "nice": false, "zero": false}, "axis": {"values": [0, 0.0001, 0.0002], "labelExpr": "datum.value == 0 ? '0' : slice(format(datum.value, '.4f'), 1)", "title": "kψ 1/s"}}
      },
      "layer": [
        {"data": {"name": "c10"}, "mark": {"type": "line", "interpolate": "monotone", "strokeWidth": 1},
         "encoding": {"detail": [{"field": "s", "type": "nominal"}, {"field": "e", "type": "nominal"}],
           "color": {"field": "e", "type": "nominal", "scale": {"domain": [0, 1], "range": ["#111", "#888"]}, "legend": null},
           "strokeDash": {"field": "e", "type": "nominal", "scale": {"domain": [0, 1], "range": [[1, 0], [1, 2]]}, "legend": null}}},
        {"data": {"name": "p10"}, "mark": {"type": "point", "filled": false, "strokeWidth": 1, "size": 28, "opacity": 1, "stroke": "#111"},
         "encoding": {
           "shape": {"field": "s", "type": "nominal", "scale": {"domain": ["0.2 M NaCl", "0.1 M NaCl", "no salt", "H"], "range": ["circle", "M-1,0L1,0M0,-1L0,1", "M-1,0L1,0M-0.5,-0.87L0.5,0.87M-0.5,0.87L0.5,-0.87", "circle"]}, "legend": null},
           "fill": {"field": "s", "type": "nominal", "scale": {"domain": ["0.2 M NaCl", "0.1 M NaCl", "no salt", "H"], "range": ["#111", "white", "white", "white"]}, "legend": null}
         }},
        {"data": {"name": "l10"}, "mark": {"type": "text", "align": "left", "baseline": "middle", "font": "Liberation Sans", "fontSize": 7.5}, "encoding": {"text": {"field": "t"}}}
      ]
    },
    {
      "width": 285, "height": 68, "view": {"stroke": null},
      "data": {"values": [{"line":1,"p":"b","t":"Figure 7."},{"line":1,"p":"r","t":"Dependence of kψ for reaction of MeONs with Cl⁻ on [Od-"},{"line":2,"p":"l","t":"TACl] and [NaCl] and of hydrolysis on [OdTA(SO₄)₁/₂] (H)."}]},
      "encoding": {
        "x": {"datum": 0, "type": "quantitative", "scale": {"domain": [0.15, 0.988], "nice": false, "zero": false}, "axis": null},
        "y": {"field": "line", "type": "quantitative", "scale": {"domain": [-0.407, 4.63], "reverse": true, "nice": false, "zero": false}, "axis": null}
      },
      "layer": [
        {"transform": [{"filter": "datum.p == 'b'"}], "mark": {"type": "text", "align": "left", "baseline": "middle", "font": "Liberation Serif", "fontSize": 11.5, "fontWeight": "bold"}, "encoding": {"text": {"field": "t"}}},
        {"transform": [{"filter": "datum.p == 'r'"}], "mark": {"type": "text", "align": "left", "baseline": "middle", "font": "Liberation Serif", "fontSize": 11.5, "dx": 48}, "encoding": {"text": {"field": "t"}}},
        {"transform": [{"filter": "datum.p == 'l'"}], "mark": {"type": "text", "align": "left", "baseline": "middle", "font": "Liberation Serif", "fontSize": 11.5}, "encoding": {"text": {"field": "t"}}}
      ]
    },
    {
      "width": 313, "height": 68, "view": {"stroke": null},
      "data": {"values": [{"line":1,"p":"b","t":"Figure 10."},{"line":1,"p":"r","t":"Dependence of kψ for reaction of MeONs with Cl⁻ on [Do-"},{"line":2,"p":"l","t":"TACl] and [NaCl] and of hydrolysis on [DoTA(SO₄)₁/₂] (H)."}]},
      "encoding": {
        "x": {"datum": 0, "type": "quantitative", "scale": {"domain": [0.1432, 0.9892], "nice": false, "zero": false}, "axis": null},
        "y": {"field": "line", "type": "quantitative", "scale": {"domain": [-0.63, 4.407], "reverse": true, "nice": false, "zero": false}, "axis": null}
      },
      "layer": [
        {"transform": [{"filter": "datum.p == 'b'"}], "mark": {"type": "text", "align": "left", "baseline": "middle", "font": "Liberation Serif", "fontSize": 11.5, "fontWeight": "bold"}, "encoding": {"text": {"field": "t"}}},
        {"transform": [{"filter": "datum.p == 'r'"}], "mark": {"type": "text", "align": "left", "baseline": "middle", "font": "Liberation Serif", "fontSize": 11.5, "dx": 54}, "encoding": {"text": {"field": "t"}}},
        {"transform": [{"filter": "datum.p == 'l'"}], "mark": {"type": "text", "align": "left", "baseline": "middle", "font": "Liberation Serif", "fontSize": 11.5}, "encoding": {"text": {"field": "t"}}}
      ]
    },
    {
      "width": 284, "height": 186,
      "encoding": {
        "x": {"field": "x", "type": "quantitative", "scale": {"domain": [0, 0.091], "nice": false, "zero": false}, "axis": {"values": [0, 0.01, 0.02, 0.03, 0.04, 0.05, 0.06, 0.07, 0.08], "labelExpr": "datum.value == 0 ? '0' : slice(format(datum.value, '.2f'), 1)", "title": "[CTACl]\u00a0\u00a0\u00a0M"}},
        "y": {"field": "y", "type": "quantitative", "scale": {"domain": [0, 0.0003], "nice": false, "zero": false}, "axis": {"values": [0, 0.0001, 0.0002, 0.0003], "labelExpr": "datum.value == 0 ? '0' : slice(format(datum.value, '.4f'), 1)", "title": "kψ 1/s"}}
      },
      "layer": [
        {"data": {"name": "c8"}, "mark": {"type": "line", "interpolate": "monotone", "strokeWidth": 1},
         "encoding": {"detail": [{"field": "s", "type": "nominal"}, {"field": "e", "type": "nominal"}],
           "color": {"field": "e", "type": "nominal", "scale": {"domain": [0, 1], "range": ["#111", "#888"]}, "legend": null},
           "strokeDash": {"field": "e", "type": "nominal", "scale": {"domain": [0, 1], "range": [[1, 0], [1, 2]]}, "legend": null}}},
        {"data": {"name": "p8"}, "mark": {"type": "point", "filled": false, "strokeWidth": 1, "size": 28, "opacity": 1, "stroke": "#111"},
         "encoding": {
           "shape": {"field": "s", "type": "nominal", "scale": {"domain": ["0.2 M NaCl", "0.1 M NaCl", "no salt", "H"], "range": ["circle", "M-1,0L1,0M0,-1L0,1", "M-1,0L1,0M-0.5,-0.87L0.5,0.87M-0.5,0.87L0.5,-0.87", "circle"]}, "legend": null},
           "fill": {"field": "s", "type": "nominal", "scale": {"domain": ["0.2 M NaCl", "0.1 M NaCl", "no salt", "H"], "range": ["#111", "white", "white", "white"]}, "legend": null}
         }},
        {"data": {"name": "l8"}, "mark": {"type": "text", "align": "left", "baseline": "middle", "font": "Liberation Sans", "fontSize": 7.5}, "encoding": {"text": {"field": "t"}}}
      ]
    },
    {
      "width": 313, "height": 187,
      "encoding": {
        "x": {"field": "x", "type": "quantitative", "scale": {"domain": [0, 0.67], "nice": false, "zero": false}, "axis": {"values": [0, 0.1, 0.2, 0.3, 0.4, 0.5, 0.6], "labelExpr": "datum.value == 0 ? '0' : slice(format(datum.value, '.1f'), 1)", "title": "[DeT ACl]\u00a0\u00a0M"}},
        "y": {"field": "y", "type": "quantitative", "scale": {"domain": [0, 0.0002], "nice": false, "zero": false}, "axis": {"values": [0, 0.0001, 0.0002], "labelExpr": "datum.value == 0 ? '0' : slice(format(datum.value, '.4f'), 1)", "title": "kψ 1/s"}}
      },
      "layer": [
        {"data": {"name": "c11"}, "mark": {"type": "line", "interpolate": "monotone", "strokeWidth": 1},
         "encoding": {"detail": [{"field": "s", "type": "nominal"}, {"field": "e", "type": "nominal"}],
           "color": {"field": "e", "type": "nominal", "scale": {"domain": [0, 1], "range": ["#111", "#888"]}, "legend": null},
           "strokeDash": {"field": "e", "type": "nominal", "scale": {"domain": [0, 1], "range": [[1, 0], [1, 2]]}, "legend": null}}},
        {"data": {"name": "r11"}, "mark": {"type": "rule", "strokeWidth": 0.8, "color": "#111"}, "encoding": {"x2": {"field": "x2"}, "y2": {"field": "y2"}}},
        {"data": {"name": "p11"}, "mark": {"type": "point", "filled": false, "strokeWidth": 1, "size": 28, "opacity": 1, "stroke": "#111"},
         "encoding": {
           "shape": {"field": "s", "type": "nominal", "scale": {"domain": ["0.2 M NaCl", "0.1 M NaCl", "no salt", "H"], "range": ["circle", "M-1,0L1,0M0,-1L0,1", "M-1,0L1,0M-0.5,-0.87L0.5,0.87M-0.5,0.87L0.5,-0.87", "circle"]}, "legend": null},
           "fill": {"field": "s", "type": "nominal", "scale": {"domain": ["0.2 M NaCl", "0.1 M NaCl", "no salt", "H"], "range": ["#111", "white", "white", "white"]}, "legend": null}
         }},
        {"data": {"name": "l11"}, "mark": {"type": "text", "align": "left", "baseline": "middle", "font": "Liberation Sans", "fontSize": 7.5}, "encoding": {"text": {"field": "t"}}}
      ]
    },
    {
      "width": 285, "height": 41, "view": {"stroke": null},
      "data": {"values": [{"line":1,"p":"b","t":"Figure 8."},{"line":1,"p":"r","t":"Dependence of kψ for reaction of MeONs with Cl⁻ on"},{"line":2,"p":"l","t":"[CTACl] and [NaCl] and of hydrolysis on [CTA(SO₄)₁/₂] (H)."}]},
      "encoding": {
        "x": {"datum": 0, "type": "quantitative", "scale": {"domain": [0.15, 0.988], "nice": false, "zero": false}, "axis": null},
        "y": {"field": "line", "type": "quantitative", "scale": {"domain": [-0.407, 2.63], "reverse": true, "nice": false, "zero": false}, "axis": null}
      },
      "layer": [
        {"transform": [{"filter": "datum.p == 'b'"}], "mark": {"type": "text", "align": "left", "baseline": "middle", "font": "Liberation Serif", "fontSize": 11.5, "fontWeight": "bold"}, "encoding": {"text": {"field": "t"}}},
        {"transform": [{"filter": "datum.p == 'r'"}], "mark": {"type": "text", "align": "left", "baseline": "middle", "font": "Liberation Serif", "fontSize": 11.5, "dx": 50}, "encoding": {"text": {"field": "t"}}},
        {"transform": [{"filter": "datum.p == 'l'"}], "mark": {"type": "text", "align": "left", "baseline": "middle", "font": "Liberation Serif", "fontSize": 11.5}, "encoding": {"text": {"field": "t"}}}
      ]
    },
    {
      "width": 313, "height": 41, "view": {"stroke": null},
      "data": {"values": [{"line":1,"p":"b","t":"Figure 11."},{"line":1,"p":"r","t":"Dependence of kψ for reaction of MeONs with Cl⁻ on [De-"},{"line":2,"p":"l","t":"TACl] and [NaCl] and of hydrolysis on [DeTA(MeSO₃)] (H)."}]},
      "encoding": {
        "x": {"datum": 0, "type": "quantitative", "scale": {"domain": [0.1432, 0.9892], "nice": false, "zero": false}, "axis": null},
        "y": {"field": "line", "type": "quantitative", "scale": {"domain": [-0.481, 2.556], "reverse": true, "nice": false, "zero": false}, "axis": null}
      },
      "layer": [
        {"transform": [{"filter": "datum.p == 'b'"}], "mark": {"type": "text", "align": "left", "baseline": "middle", "font": "Liberation Serif", "fontSize": 11.5, "fontWeight": "bold"}, "encoding": {"text": {"field": "t"}}},
        {"transform": [{"filter": "datum.p == 'r'"}], "mark": {"type": "text", "align": "left", "baseline": "middle", "font": "Liberation Serif", "fontSize": 11.5, "dx": 54}, "encoding": {"text": {"field": "t"}}},
        {"transform": [{"filter": "datum.p == 'l'"}], "mark": {"type": "text", "align": "left", "baseline": "middle", "font": "Liberation Serif", "fontSize": 11.5}, "encoding": {"text": {"field": "t"}}}
      ]
    },
    {
      "width": 285, "height": 230, "view": {"stroke": null},
      "data": {"values": [
        {"line":1,"p":"l","t":"probably rapidly exchanging between two sites, corresponding to"},
        {"line":2,"p":"l","t":"Br⁻ in the water lattice and as ion pairs in a clathratelike water"},
        {"line":3,"p":"l","t":"lattice.¹⁴ᵃ  Alternatively the nonpolar groups of the ammonium"},
        {"line":4,"p":"l","t":"ions exert a structure making effect on the water lattice, and some"},
        {"line":5,"p":"l","t":"of the anions are incorporated into this modified water structure"},
        {"line":6,"p":"l","t":"in the vicinity of the cations."},
        {"line":7,"p":"n","t":"We therefore considered a simplified model with Cl⁻ moving"},
        {"line":8,"p":"l","t":"rapidly between three sites:  nonmicellized OcTACl, micelles and"},
        {"line":9,"p":"l","t":"bulk water.  The concentration of nonmicellized surfactant is taken"},
        {"line":10,"p":"l","t":"as the cmc at the corresponding [NaCl].  There is an interaction"},
        {"line":11,"p":"l","t":"between Cl⁻ and nonmicellized ammonium ion to form an ion pair"},
        {"line":12,"p":"l","t":"with an equilibrium constant, K′ᵢₚ:"},
        {"line":13.45,"p":"l","t":"K′ᵢₚ = [Clᵢₚ⁻]/([Clₜ⁻] − [Clᵢₚ⁻] − [Clₘ⁻])(cmc − [Clᵢₚ⁻])"},
        {"line":13.45,"p":"e","t":"(6)"}
      ]},
      "encoding": {
        "x": {"datum": 0, "type": "quantitative", "scale": {"domain": [0.15, 0.988], "nice": false, "zero": false}, "axis": null},
        "y": {"field": "line", "type": "quantitative", "scale": {"domain": [0.286, 16.714], "reverse": true, "nice": false, "zero": false}, "axis": null}
      },
      "layer": [
        {"transform": [{"filter": "datum.p == 'l'"}], "mark": {"type": "text", "align": "left", "baseline": "middle", "font": "Liberation Serif", "fontSize": 12.8}, "encoding": {"text": {"field": "t"}}},
        {"transform": [{"filter": "datum.p == 'n'"}], "mark": {"type": "text", "align": "left", "baseline": "middle", "font": "Liberation Serif", "fontSize": 12.8, "dx": 12}, "encoding": {"text": {"field": "t"}}},
        {"transform": [{"filter": "datum.p == 'e'"}], "mark": {"type": "text", "align": "right", "baseline": "middle", "font": "Liberation Serif", "fontSize": 12.8}, "encoding": {"x": {"datum": 1, "type": "quantitative"}, "text": {"field": "t"}}}
      ]
    },
    {
      "width": 313, "height": 230, "view": {"stroke": null},
      "data": {"values": [
        {"line":1,"p":"l","t":"where [Cl⁻ᵢₚ] is the concentration of ion pairs."},
        {"line":2,"p":"n","t":"The line width is now"},
        {"line":3.45,"p":"c","t":"B = pWBW + pMBM + pᵢₚBᵢₚ"},
        {"line":3.45,"p":"e","t":"(7)"},
        {"line":5,"p":"l","t":"where p denotes the mole fraction at the three sites.  Fitting this"},
        {"line":6,"p":"l","t":"equation as above gave the parameters for OcTACl (Table I)."},
        {"line":7,"p":"l","t":"Ion pairing was neglected for the longer chain surfactants that"},
        {"line":8,"p":"l","t":"have low cmc (Table II)."},
        {"line":9,"p":"n","t":"Figure 6 shows the experimental values of line width and the"},
        {"line":10,"p":"l","t":"calculated plots based on the values in Table I for OcTACl."},
        {"line":11,"p":"i","t":"Kinetics."},
        {"line":11,"p":"r","t":"First-order rate constants of reaction of Cl⁻ with"},
        {"line":12,"p":"l","t":"MeONs, kψ, increase with increasing surfactant concentration"},
        {"line":13,"p":"l","t":"and reach limiting values.  These limiting values increase with"},
        {"line":14,"p":"l","t":"the length of the alkyl group and on addition of Cl⁻ (Figures 7–11)."}
      ]},
      "encoding": {
        "x": {"datum": 0, "type": "quantitative", "scale": {"domain": [0.1432, 0.9892], "nice": false, "zero": false}, "axis": null},
        "y": {"field": "line", "type": "quantitative", "scale": {"domain": [0.286, 16.714], "reverse": true, "nice": false, "zero": false}, "axis": null}
      },
      "layer": [
        {"transform": [{"filter": "datum.p == 'l'"}], "mark": {"type": "text", "align": "left", "baseline": "middle", "font": "Liberation Serif", "fontSize": 12.8}, "encoding": {"text": {"field": "t"}}},
        {"transform": [{"filter": "datum.p == 'n'"}], "mark": {"type": "text", "align": "left", "baseline": "middle", "font": "Liberation Serif", "fontSize": 12.8, "dx": 12}, "encoding": {"text": {"field": "t"}}},
        {"transform": [{"filter": "datum.p == 'i'"}], "mark": {"type": "text", "align": "left", "baseline": "middle", "font": "Liberation Serif", "fontSize": 12.8, "fontStyle": "italic", "dx": 12}, "encoding": {"text": {"field": "t"}}},
        {"transform": [{"filter": "datum.p == 'r'"}], "mark": {"type": "text", "align": "left", "baseline": "middle", "font": "Liberation Serif", "fontSize": 12.8, "dx": 63}, "encoding": {"text": {"field": "t"}}},
        {"transform": [{"filter": "datum.p == 'c'"}], "mark": {"type": "text", "align": "center", "baseline": "middle", "font": "Liberation Serif", "fontSize": 12.8, "fontStyle": "italic"}, "encoding": {"x": {"datum": 0.52, "type": "quantitative"}, "text": {"field": "t"}}},
        {"transform": [{"filter": "datum.p == 'e'"}], "mark": {"type": "text", "align": "right", "baseline": "middle", "font": "Liberation Serif", "fontSize": 12.8}, "encoding": {"x": {"datum": 1, "type": "quantitative"}, "text": {"field": "t"}}}
      ]
    }
  ]
}
